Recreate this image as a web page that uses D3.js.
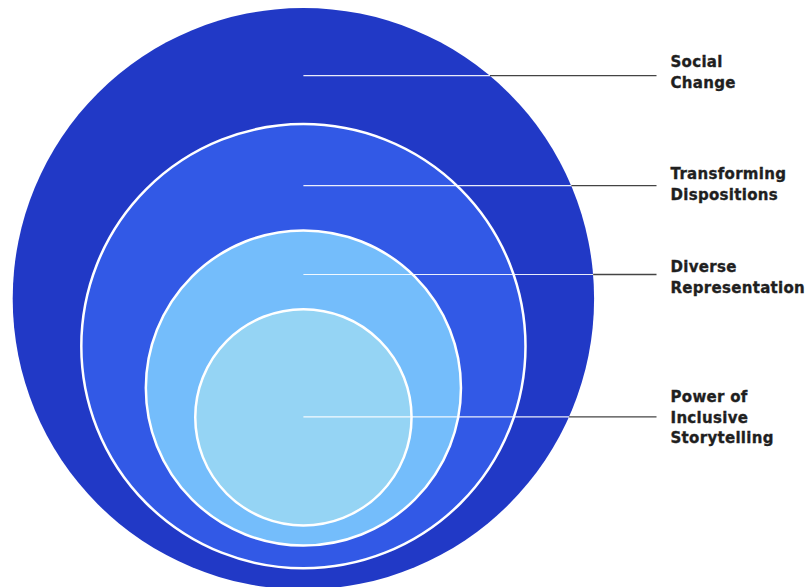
<!DOCTYPE html>
<html>
<head>
<meta charset="utf-8">
<script src="https://cdn.jsdelivr.net/npm/d3@7"></script>
<style>
  html, body { margin: 0; padding: 0; background: #ffffff; }
  svg { display: block; }
</style>
</head>
<body>
<div id="chart"></div>
<script>
// ---- data ----
const layers = ["Social Change", "Transforming Dispositions", "Diverse Representation", "Power of Inclusive Storytelling"];
const labelLines = [["Social", "Change"], ["Transforming", "Dispositions"], ["Diverse", "Representation"], ["Power of", "Inclusive", "Storytelling"]];
const relativeSize = [1.0, 0.764, 0.542, 0.372];   // radius relative to outer ring
const colors = ["#2139c6", "#3259e6", "#74bdfb", "#95d4f4"];

// ---- layout ----
const W = 808, H = 587;
const cx = 303.4;
const centerY = [298.7, 346.2, 388.0, 417.3];
const leaderY = [75.7, 185.7, 274.5, 416.8];
const labelBaseline = [67.3, 179.2, 272.3, 402.3];
const leaderEnd = 656.5, labelX = 670.5, lineHeight = 20.4;

const r = d3.scaleLinear().domain([0, 1]).range([0, 290.7]);

const svg = d3.select("#chart").append("svg").attr("width", W).attr("height", H);

const rings = layers.map((name, i) => ({ name, i, r: r(relativeSize[i]), cy: centerY[i] }));

svg.append("g").selectAll("circle").data(rings).join("circle")
  .attr("cx", cx).attr("cy", d => d.cy).attr("r", d => d.r)
  .attr("fill", (d, i) => colors[i])
  .attr("stroke", (d, i) => i === 0 ? "none" : "#ffffff")
  .attr("stroke-width", 2.5);

// leader lines: dark outside the outer circle, white inside
const outer = rings[0];
const leaders = svg.append("g");
leaderY.forEach((y, i) => {
  const dx = Math.sqrt(Math.max(0, outer.r * outer.r - (y - outer.cy) * (y - outer.cy)));
  const edge = cx + dx;
  leaders.append("line").attr("x1", edge).attr("x2", leaderEnd).attr("y1", y).attr("y2", y)
    .attr("stroke", "#444444").attr("stroke-width", 1.3);
  leaders.append("line").attr("x1", cx).attr("x2", edge).attr("y1", y).attr("y2", y)
    .attr("stroke", "#ffffff").attr("stroke-width", 1.2).attr("stroke-opacity", 0.9);
});

// labels
const lbl = svg.append("g");
labelLines.forEach((lines, i) => {
  const t = lbl.append("text")
    .attr("x", labelX).attr("y", labelBaseline[i])
    .attr("font-family", "'DejaVu Sans', sans-serif")
    .attr("font-weight", "bold").attr("font-size", 15)
    .attr("letter-spacing", 0.3)
    .attr("fill", "#1f1f1f")
    .attr("stroke", "#1f1f1f").attr("stroke-width", 0.35);
  lines.forEach((s, j) => {
    t.append("tspan").attr("x", labelX).attr("dy", j === 0 ? 0 : lineHeight).text(s);
  });
});
</script>
</body>
</html>
